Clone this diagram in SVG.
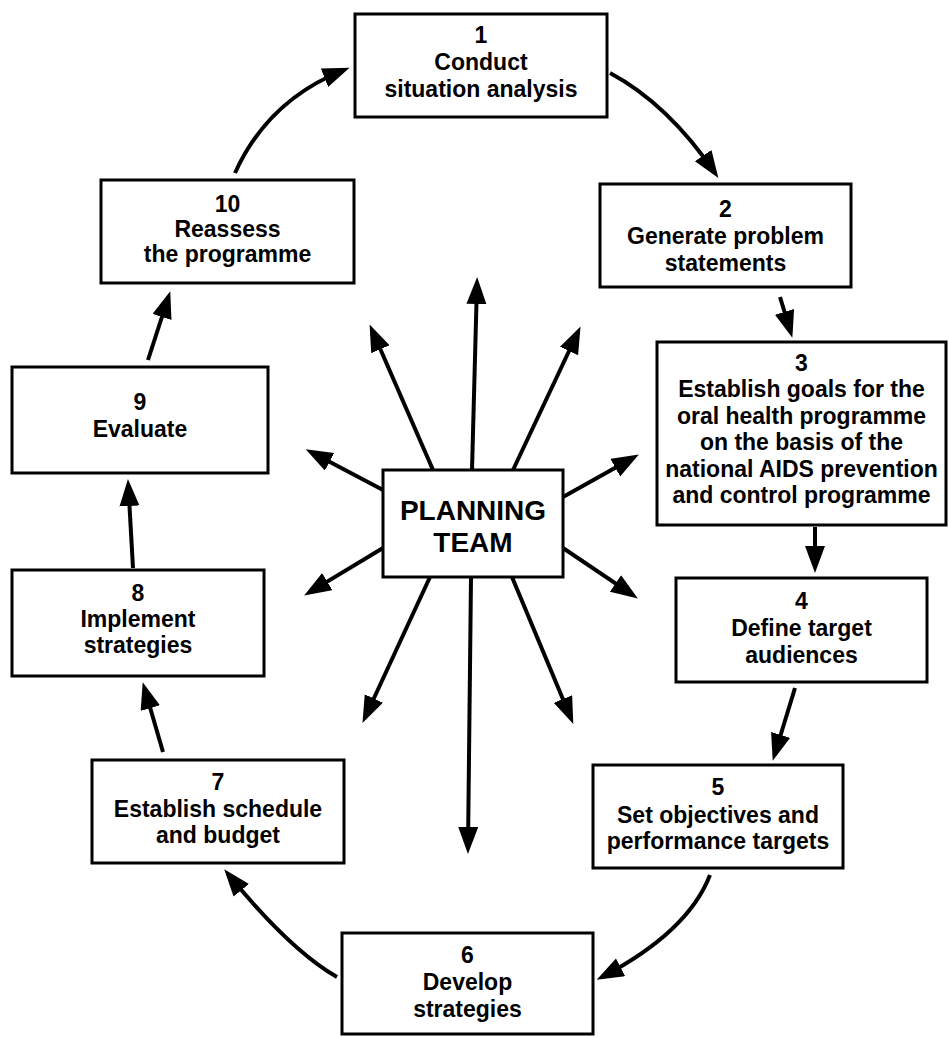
<svg xmlns="http://www.w3.org/2000/svg" width="949" height="1037" viewBox="0 0 949 1037">
<style>
.box{fill:#fff;stroke:#000;stroke-width:3}
.t{font-family:"Liberation Sans",Arial,sans-serif;font-weight:bold;font-size:23px;text-anchor:middle;fill:#000}
.pt{font-family:"Liberation Sans",Arial,sans-serif;font-weight:bold;font-size:28px;text-anchor:middle;fill:#000}
.c{fill:none;stroke:#000;stroke-width:4;marker-end:url(#ah)}
</style>
<defs>
<marker id="ah" markerUnits="userSpaceOnUse" markerWidth="28" markerHeight="22" refX="21" refY="10" orient="auto">
<path d="M0,0 L27,10 L0,20 Z" fill="#000"/>
</marker>
</defs>
<rect width="949" height="1037" fill="#fff"/>
<g id="connectors">
<path class="c" d="M235,173 Q268,100 344,70"/>
<path class="c" d="M610,73 Q668,104 715,173"/>
<path class="c" d="M780,297 L790.6,332"/>
<path class="c" d="M815,527 L815,567"/>
<path class="c" d="M795,688 L774.5,755"/>
<path class="c" d="M710,875 Q688,932 602,977"/>
<path class="c" d="M337,977 Q290,950 228,874"/>
<path class="c" d="M163,752 L144.4,688"/>
<path class="c" d="M133,568 L128.3,485"/>
<path class="c" d="M148,360 L168.4,297"/>
<path class="c" d="M472,470 L477,283"/>
<path class="c" d="M433,470 L372,330"/>
<path class="c" d="M513,470 L578,332"/>
<path class="c" d="M383,490 L311,452"/>
<path class="c" d="M563,497 L633.6,457.4"/>
<path class="c" d="M383,548 L309.3,592.4"/>
<path class="c" d="M563,548 L632.9,595.2"/>
<path class="c" d="M430,577 L365,717.5"/>
<path class="c" d="M512,577 L571,718.4"/>
<path class="c" d="M471,577 L468,848"/>
</g>
<g id="n1"><rect class="box" x="355" y="14" width="252" height="103"/>
<text class="t" x="481" y="43">1</text><text class="t" x="481" y="70">Conduct</text><text class="t" x="481" y="97">situation analysis</text></g>
<g id="n2"><rect class="box" x="600" y="184" width="251" height="103"/>
<text class="t" x="725.5" y="217">2</text><text class="t" x="725.5" y="244">Generate problem</text><text class="t" x="725.5" y="271">statements</text></g>
<g id="n3"><rect class="box" x="657" y="342" width="289" height="183"/>
<text class="t" x="801.5" y="371">3</text><text class="t" x="801.5" y="397">Establish goals for the</text><text class="t" x="801.5" y="424">oral health programme</text><text class="t" x="801.5" y="450">on the basis of the</text><text class="t" x="801.5" y="477">national AIDS prevention</text><text class="t" x="801.5" y="503">and control programme</text></g>
<g id="n4"><rect class="box" x="676" y="578" width="251" height="104"/>
<text class="t" x="801.5" y="609">4</text><text class="t" x="801.5" y="636">Define target</text><text class="t" x="801.5" y="663">audiences</text></g>
<g id="n5"><rect class="box" x="593" y="765" width="250" height="103"/>
<text class="t" x="718" y="795">5</text><text class="t" x="718" y="823">Set objectives and</text><text class="t" x="718" y="849">performance targets</text></g>
<g id="n6"><rect class="box" x="342" y="933" width="251" height="101"/>
<text class="t" x="467.5" y="963">6</text><text class="t" x="467.5" y="990">Develop</text><text class="t" x="467.5" y="1017">strategies</text></g>
<g id="n7"><rect class="box" x="92" y="760" width="252" height="103"/>
<text class="t" x="218" y="790">7</text><text class="t" x="218" y="817">Establish schedule</text><text class="t" x="218" y="843">and budget</text></g>
<g id="n8"><rect class="box" x="12" y="570" width="252" height="106"/>
<text class="t" x="138" y="601">8</text><text class="t" x="138" y="627">Implement</text><text class="t" x="138" y="653">strategies</text></g>
<g id="n9"><rect class="box" x="12" y="367" width="256" height="106"/>
<text class="t" x="140" y="410">9</text><text class="t" x="140" y="437">Evaluate</text></g>
<g id="n10"><rect class="box" x="101" y="180" width="253" height="103"/>
<text class="t" x="227.5" y="212">10</text><text class="t" x="227.5" y="237">Reassess</text><text class="t" x="227.5" y="262">the programme</text></g>
<g id="team"><rect class="box" x="383" y="470" width="180" height="107"/>
<text class="pt" x="473" y="520">PLANNING</text><text class="pt" x="473" y="552">TEAM</text></g>
</svg>
